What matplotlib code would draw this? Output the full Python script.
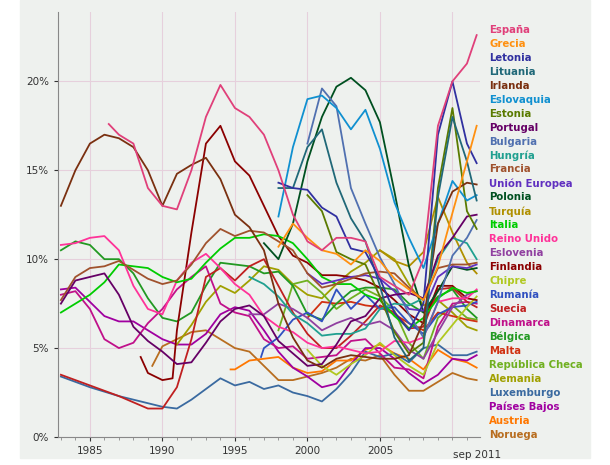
import matplotlib
matplotlib.use("Agg")
import matplotlib.pyplot as plt
from matplotlib.ticker import FuncFormatter, MultipleLocator

# years and unemployment % per country
ESP_X = [1986.3, 1987, 1988, 1989, 1990, 1991, 1992, 1993, 1994, 1995, 1996, 1997, 1998, 1999, 2000, 2001, 2002, 2003, 2004, 2005, 2006, 2007, 2008, 2009, 2010, 2011, 2011.67]
ESP_Y = [17.6, 17, 16.5, 14, 13, 12.8, 15, 18, 19.8, 18.5, 18, 17, 15, 12.5, 11, 10.5, 11.2, 11.2, 11, 9, 8.5, 8, 10, 17.5, 20, 21, 22.6]
GRC_X = [1998, 1999, 2000, 2001, 2002, 2003, 2004, 2005, 2006, 2007, 2008, 2009, 2010, 2011, 2011.67]
GRC_Y = [10.7, 12.0, 11.2, 10.5, 10.3, 9.7, 10.5, 9.9, 8.9, 8.3, 7.7, 9.6, 12.6, 15.5, 17.5]
LVA_X = [1998, 1999, 2000, 2001, 2002, 2003, 2004, 2005, 2006, 2007, 2008, 2009, 2010, 2011, 2011.67]
LVA_Y = [14.3, 14.0, 13.9, 12.9, 12.4, 10.6, 10.4, 8.9, 7.0, 6.0, 7.5, 17.0, 20.0, 16.5, 15.4]
LTU_X = [1998, 1999, 2000, 2001, 2002, 2003, 2004, 2005, 2006, 2007, 2008, 2009, 2010, 2011, 2011.67]
LTU_Y = [14.0, 14.0, 16.3, 17.3, 14.3, 12.3, 11.0, 8.5, 5.6, 4.3, 5.0, 13.5, 18.0, 15.5, 13.3]
IRL_X = [1983, 1984, 1985, 1986, 1987, 1988, 1989, 1990, 1991, 1992, 1993, 1994, 1995, 1996, 1997, 1998, 1999, 2000, 2001, 2002, 2003, 2004, 2005, 2006, 2007, 2008, 2009, 2010, 2011, 2011.67]
IRL_Y = [13, 15, 16.5, 17, 16.8, 16.3, 15, 13, 14.8, 15.3, 15.7, 14.5, 12.5, 11.8, 10.5, 7.5, 5.6, 4.3, 3.9, 4.4, 4.6, 4.5, 4.4, 4.4, 4.6, 6.5, 12, 13.8, 14.3, 14.2]
SVK_X = [1998, 1999, 2000, 2001, 2002, 2003, 2004, 2005, 2006, 2007, 2008, 2009, 2010, 2011, 2011.67]
SVK_Y = [12.4, 16.3, 19.0, 19.2, 18.5, 17.3, 18.4, 16.2, 13.2, 11.2, 9.5, 12.0, 14.4, 13.3, 13.6]
EST_X = [2000, 2001, 2002, 2003, 2004, 2005, 2006, 2007, 2008, 2009, 2010, 2011, 2011.67]
EST_Y = [13.6, 12.7, 10.4, 10.0, 9.7, 7.9, 5.9, 4.7, 5.3, 14.0, 18.5, 12.7, 11.7]
PRT_X = [1983, 1984, 1985, 1986, 1987, 1988, 1989, 1990, 1991, 1992, 1993, 1994, 1995, 1996, 1997, 1998, 1999, 2000, 2001, 2002, 2003, 2004, 2005, 2006, 2007, 2008, 2009, 2010, 2011, 2011.67]
PRT_Y = [7.5, 8.8, 9.0, 9.2, 8.0, 6.2, 5.4, 4.8, 4.1, 4.2, 5.3, 6.5, 7.2, 7.4, 6.8, 5.4, 4.7, 4.0, 4.1, 5.2, 6.5, 6.8, 7.8, 8.0, 8.1, 7.8, 10.2, 11.2, 12.4, 12.5]
BGR_X = [2000, 2001, 2002, 2003, 2004, 2005, 2006, 2007, 2008, 2009, 2010, 2011, 2011.67]
BGR_Y = [16.5, 19.6, 18.6, 14.0, 12.0, 10.1, 8.6, 6.9, 5.6, 7.6, 10.2, 11.2, 12.2]
HUN_X = [1996, 1997, 1998, 1999, 2000, 2001, 2002, 2003, 2004, 2005, 2006, 2007, 2008, 2009, 2010, 2011, 2011.67]
HUN_Y = [9.0, 8.6, 7.9, 6.9, 6.4, 5.7, 5.8, 5.8, 6.1, 7.2, 7.5, 7.4, 7.8, 10.0, 11.2, 10.9, 10.0]
FRA_X = [1983, 1984, 1985, 1986, 1987, 1988, 1989, 1990, 1991, 1992, 1993, 1994, 1995, 1996, 1997, 1998, 1999, 2000, 2001, 2002, 2003, 2004, 2005, 2006, 2007, 2008, 2009, 2010, 2011, 2011.67]
FRA_Y = [7.7, 9.0, 9.5, 9.6, 9.9, 9.4, 8.9, 8.6, 8.8, 9.7, 10.9, 11.7, 11.3, 11.6, 11.5, 11.0, 10.5, 9.2, 8.4, 8.6, 8.9, 9.2, 9.3, 9.2, 8.4, 7.7, 9.5, 9.7, 9.7, 9.8]
EU_X = [2000, 2001, 2002, 2003, 2004, 2005, 2006, 2007, 2008, 2009, 2010, 2011, 2011.67]
EU_Y = [9.2, 8.6, 8.8, 9.0, 9.1, 8.9, 8.2, 7.2, 7.1, 9.0, 9.6, 9.5, 9.7]
POL_X = [1997, 1998, 1999, 2000, 2001, 2002, 2003, 2004, 2005, 2006, 2007, 2008, 2009, 2010, 2011, 2011.67]
POL_Y = [10.9, 10.0, 12.0, 15.5, 18.0, 19.7, 20.2, 19.5, 17.7, 13.8, 9.6, 7.0, 8.2, 9.6, 9.4, 9.5]
TUR_X = [2005, 2006, 2007, 2008, 2009, 2010, 2011, 2011.67]
TUR_Y = [10.5, 9.9, 9.6, 10.4, 13.5, 11.5, 9.8, 9.2]
ITA_X = [1983, 1984, 1985, 1986, 1987, 1988, 1989, 1990, 1991, 1992, 1993, 1994, 1995, 1996, 1997, 1998, 1999, 2000, 2001, 2002, 2003, 2004, 2005, 2006, 2007, 2008, 2009, 2010, 2011, 2011.67]
ITA_Y = [7.0, 7.5, 8.0, 8.7, 9.7, 9.6, 9.5, 9.0, 8.7, 8.9, 9.8, 10.6, 11.2, 11.2, 11.4, 11.3, 10.9, 10.0, 9.0, 8.6, 8.6, 8.0, 7.7, 6.8, 6.1, 6.7, 7.8, 8.4, 8.1, 8.2]
GBR_X = [1983, 1984, 1985, 1986, 1987, 1988, 1989, 1990, 1991, 1992, 1993, 1994, 1995, 1996, 1997, 1998, 1999, 2000, 2001, 2002, 2003, 2004, 2005, 2006, 2007, 2008, 2009, 2010, 2011, 2011.67]
GBR_Y = [10.8, 10.9, 11.2, 11.3, 10.5, 8.5, 7.2, 6.9, 8.8, 9.8, 10.3, 9.5, 8.6, 8.0, 6.8, 6.2, 5.9, 5.3, 5.0, 5.1, 4.9, 4.7, 4.8, 5.4, 5.3, 5.6, 7.6, 7.8, 7.8, 8.3]
SVN_X = [1996, 1997, 1998, 1999, 2000, 2001, 2002, 2003, 2004, 2005, 2006, 2007, 2008, 2009, 2010, 2011, 2011.67]
SVN_Y = [6.9, 6.9, 7.5, 7.2, 6.7, 6.0, 6.4, 6.7, 6.3, 6.5, 6.0, 4.9, 4.4, 5.9, 7.3, 8.0, 8.2]
FIN_X = [1988.5, 1989, 1990, 1990.7, 1991, 1992, 1993, 1994, 1995, 1996, 1997, 1998, 1999, 2000, 2001, 2002, 2003, 2004, 2005, 2006, 2007, 2008, 2009, 2010, 2011, 2011.67]
FIN_Y = [4.5, 3.6, 3.2, 3.3, 6, 11.5, 16.5, 17.5, 15.5, 14.7, 13, 11.3, 10.2, 9.8, 9.1, 9.1, 9.0, 8.8, 8.4, 7.7, 6.9, 6.4, 8.5, 8.5, 7.8, 7.7]
CYP_X = [2000, 2001, 2002, 2003, 2004, 2005, 2006, 2007, 2008, 2009, 2010, 2011, 2011.67]
CYP_Y = [4.9, 4.0, 3.5, 4.1, 4.6, 5.3, 4.6, 4.0, 3.5, 5.3, 6.3, 7.3, 7.9]
ROU_X = [1996.8, 1997, 1998, 1999, 2000, 2001, 2002, 2003, 2004, 2005, 2006, 2007, 2008, 2009, 2010, 2011, 2011.67]
ROU_Y = [4.5, 5.0, 5.6, 6.6, 7.0, 6.5, 8.3, 7.2, 8.0, 7.2, 7.3, 6.4, 5.8, 6.9, 7.3, 7.4, 7.6]
SWE_X = [1983, 1985, 1987, 1989, 1990, 1991, 1992, 1993, 1994, 1995, 1996, 1997, 1998, 1999, 2000, 2001, 2002, 2003, 2004, 2005, 2006, 2007, 2008, 2009, 2010, 2011, 2011.67]
SWE_Y = [3.5, 2.9, 2.3, 1.6, 1.6, 2.8, 5.5, 9.0, 9.5, 8.8, 9.6, 10.0, 8.5, 7.0, 5.8, 5.0, 5.0, 5.7, 6.5, 7.4, 7.0, 6.1, 6.2, 8.3, 8.4, 7.6, 7.3]
DNK_X = [1983, 1984, 1985, 1986, 1987, 1988, 1989, 1990, 1991, 1992, 1993, 1994, 1995, 1996, 1997, 1998, 1999, 2000, 2001, 2002, 2003, 2004, 2005, 2006, 2007, 2008, 2009, 2010, 2011, 2011.67]
DNK_Y = [8.0, 8.2, 7.2, 5.5, 5.0, 5.3, 6.4, 7.2, 8.3, 9.0, 9.6, 7.5, 7.0, 6.8, 5.5, 5.0, 5.1, 4.4, 4.5, 4.6, 5.4, 5.5, 4.7, 3.9, 3.8, 3.3, 6.2, 7.5, 7.6, 7.5]
BEL_X = [1983, 1984, 1985, 1986, 1987, 1988, 1989, 1990, 1991, 1992, 1993, 1994, 1995, 1996, 1997, 1998, 1999, 2000, 2001, 2002, 2003, 2004, 2005, 2006, 2007, 2008, 2009, 2010, 2011, 2011.67]
BEL_Y = [10.5, 11.0, 10.8, 10.0, 10.0, 9.2, 7.8, 6.7, 6.5, 7.0, 8.5, 9.8, 9.7, 9.6, 9.2, 9.3, 8.5, 6.9, 6.6, 7.5, 8.2, 8.4, 8.4, 8.3, 7.5, 7.0, 7.9, 8.3, 7.2, 6.7]
MLT_X = [2000, 2001, 2002, 2003, 2004, 2005, 2006, 2007, 2008, 2009, 2010, 2011, 2011.67]
MLT_Y = [6.7, 7.6, 7.5, 7.6, 7.4, 7.3, 6.9, 6.4, 6.0, 7.0, 6.8, 6.6, 6.5]
CZE_X = [1998, 1999, 2000, 2001, 2002, 2003, 2004, 2005, 2006, 2007, 2008, 2009, 2010, 2011, 2011.67]
CZE_Y = [6.0, 8.6, 8.8, 8.1, 7.2, 7.8, 8.3, 7.9, 7.1, 5.3, 4.4, 6.7, 7.4, 6.7, 6.6]
DEU_X = [1991, 1992, 1993, 1994, 1995, 1996, 1997, 1998, 1999, 2000, 2001, 2002, 2003, 2004, 2005, 2006, 2007, 2008, 2009, 2010, 2011, 2011.67]
DEU_Y = [5.2, 6.3, 7.6, 8.5, 8.1, 8.8, 9.6, 9.4, 8.6, 8.0, 7.8, 8.6, 9.3, 9.8, 10.5, 10.0, 8.6, 7.4, 7.7, 7.0, 6.2, 6.0]
LUX_X = [1983, 1985, 1987, 1989, 1990, 1991, 1992, 1993, 1994, 1995, 1996, 1997, 1998, 1999, 2000, 2001, 2002, 2003, 2004, 2005, 2006, 2007, 2008, 2009, 2010, 2011, 2011.67]
LUX_Y = [3.4, 2.8, 2.3, 1.9, 1.7, 1.6, 2.1, 2.7, 3.3, 2.9, 3.1, 2.7, 2.9, 2.5, 2.3, 2.0, 2.7, 3.6, 4.8, 4.5, 4.7, 4.2, 5.0, 5.2, 4.6, 4.6, 4.8]
NLD_X = [1983, 1984, 1985, 1986, 1987, 1988, 1989, 1990, 1991, 1992, 1993, 1994, 1995, 1996, 1997, 1998, 1999, 2000, 2001, 2002, 2003, 2004, 2005, 2006, 2007, 2008, 2009, 2010, 2011, 2011.67]
NLD_Y = [8.3, 8.4, 7.6, 6.8, 6.5, 6.5, 6.0, 5.5, 5.2, 5.2, 5.8, 6.9, 7.3, 7.1, 6.0, 4.8, 3.9, 3.4, 2.8, 3.0, 4.1, 5.0, 5.0, 4.4, 3.6, 3.0, 3.5, 4.4, 4.3, 4.6]
AUT_X = [1994.7, 1995, 1996, 1997, 1998, 1999, 2000, 2001, 2002, 2003, 2004, 2005, 2006, 2007, 2008, 2009, 2010, 2011, 2011.67]
AUT_Y = [3.8, 3.8, 4.3, 4.4, 4.5, 3.9, 3.6, 3.7, 4.3, 4.3, 4.9, 5.2, 4.7, 4.4, 3.8, 4.9, 4.4, 4.2, 3.9]
NOR_X = [1989.3, 1990, 1991, 1992, 1993, 1994, 1995, 1996, 1997, 1998, 1999, 2000, 2001, 2002, 2003, 2004, 2005, 2006, 2007, 2008, 2009, 2010, 2011, 2011.67]
NOR_Y = [4.0, 5.1, 5.5, 5.9, 6.0, 5.5, 5.0, 4.8, 4.0, 3.2, 3.2, 3.4, 3.6, 3.9, 4.4, 4.3, 4.6, 3.5, 2.6, 2.6, 3.1, 3.6, 3.3, 3.2]

YEAR_TICKS = [1985, 1990, 1995, 2000, 2005]
GRID_YEARS = [1985, 1990, 1995, 2000, 2005, 2010]

SERIES = [
    ("España", "#e0407a", ESP_X, ESP_Y),
    ("Grecia", "#ff9010", GRC_X, GRC_Y),
    ("Letonia", "#3030a0", LVA_X, LVA_Y),
    ("Lituania", "#206878", LTU_X, LTU_Y),
    ("Irlanda", "#7a3010", IRL_X, IRL_Y),
    ("Eslovaquia", "#1090d0", SVK_X, SVK_Y),
    ("Estonia", "#5a7a00", EST_X, EST_Y),
    ("Portugal", "#660066", PRT_X, PRT_Y),
    ("Bulgaria", "#5070b0", BGR_X, BGR_Y),
    ("Hungría", "#20a090", HUN_X, HUN_Y),
    ("Francia", "#a0522d", FRA_X, FRA_Y),
    ("Unión Europea", "#6030c0", EU_X, EU_Y),
    ("Polonia", "#005020", POL_X, POL_Y),
    ("Turquía", "#b09000", TUR_X, TUR_Y),
    ("Italia", "#00cc00", ITA_X, ITA_Y),
    ("Reino Unido", "#ff3399", GBR_X, GBR_Y),
    ("Eslovenia", "#9040a0", SVN_X, SVN_Y),
    ("Finlandia", "#8b0000", FIN_X, FIN_Y),
    ("Chipre", "#b0c820", CYP_X, CYP_Y),
    ("Rumanía", "#3050c0", ROU_X, ROU_Y),
    ("Suecia", "#c02020", SWE_X, SWE_Y),
    ("Dinamarca", "#c0108a", DNK_X, DNK_Y),
    ("Bélgica", "#229922", BEL_X, BEL_Y),
    ("Malta", "#d03010", MLT_X, MLT_Y),
    ("República Checa", "#70b020", CZE_X, CZE_Y),
    ("Alemania", "#a0a000", DEU_X, DEU_Y),
    ("Luxemburgo", "#3a6aa0", LUX_X, LUX_Y),
    ("Países Bajos", "#a000a0", NLD_X, NLD_Y),
    ("Austria", "#ff7700", AUT_X, AUT_Y),
    ("Noruega", "#b86e20", NOR_X, NOR_Y),
]

BG = "#eef1ee"
fig = plt.figure(figsize=(6.1, 4.65), dpi=100, facecolor="white")
fig.patches.append(plt.Rectangle((20 / 610, 7 / 465), 570 / 610, 458 / 465,
                                 transform=fig.transFigure, color=BG, zorder=-1))
ax = fig.add_axes([58 / 610, 28 / 465, 422 / 610, 425 / 465], facecolor=BG)

for name, col, xs, ys in SERIES[::-1]:
    ax.plot(xs, ys, color=col, lw=1.3)

ax.set_xlim(1982.8, 2011.9)
ax.set_ylim(0, 23.9)
ax.set_xticks(YEAR_TICKS)
ax.xaxis.set_minor_locator(MultipleLocator(1))
ax.yaxis.set_major_locator(MultipleLocator(5))
ax.yaxis.set_major_formatter(FuncFormatter(lambda v, p: f"{v:.0f}%"))
ax.grid(True, axis="y", color="#e6d0dc", lw=0.8)
for gx in GRID_YEARS:
    ax.axvline(gx, color="#e6d0dc", lw=0.8, zorder=0)
for s in ["top", "right"]:
    ax.spines[s].set_visible(False)
for s in ["left", "bottom"]:
    ax.spines[s].set_color("#888888")
ax.tick_params(labelsize=7.5, colors="#333333", length=3)
ax.tick_params(which="minor", length=2, color="#888888")
ax.text(2011.67, -0.75, "sep 2011", fontsize=7.5, ha="center", va="top", color="#333333")

for i, (name, col, xs, ys) in enumerate(SERIES):
    fig.text(489 / 610, 1 - (30 + i * 13.95) / 465, name, color=col, fontsize=7.3,
             fontweight="bold", va="center", ha="left")

fig.savefig("out.png", dpi=100, facecolor="white")
